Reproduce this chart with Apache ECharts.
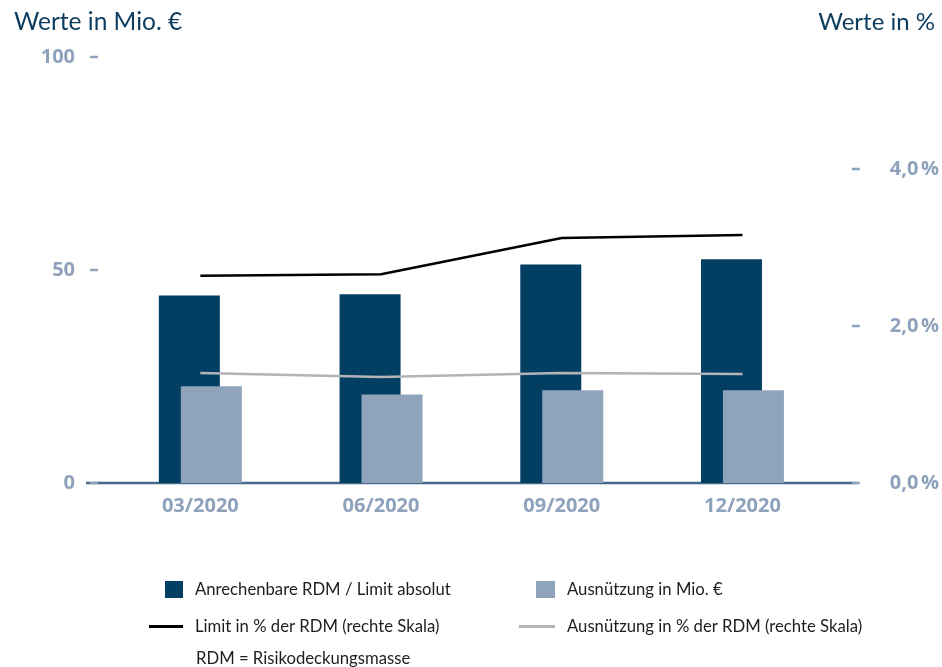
<!DOCTYPE html>
<html>
<head>
<meta charset="utf-8">
<script src="https://cdn.jsdelivr.net/npm/echarts@6/dist/echarts.min.js"></script>
<style>html,body{margin:0;padding:0;background:#fff;}#c{width:942px;height:667px;}</style>
</head>
<body>
<div id="c"></div>
<script>
const categories = ['03/2020', '06/2020', '09/2020', '12/2020'];
const rdmLimit = [44.0, 44.3, 51.3, 52.5];          // Anrechenbare RDM / Limit absolut (Mio. €)
const usageAbs = [22.7, 20.8, 21.8, 21.8];          // Ausnützung in Mio. €
const limitPct = [2.64, 2.66, 3.12, 3.16];          // Limit in % der RDM
const usagePct = [1.40, 1.35, 1.40, 1.39];          // Ausnützung in % der RDM
const leftTicks = [0, 50, 100];
const rightTicks = ['0,0\u202f%', '2,0\u202f%', '4,0\u202f%'];

const names = ['Anrechenbare RDM / Limit absolut', 'Ausnützung in Mio. €',
  'Limit in % der RDM (rechte Skala)', 'Ausnützung in % der RDM (rechte Skala)'];

const DARK = '#023f62', LIGHT = '#8fa3bb', LBL = '#8fa2bb', TITLE = '#0c3c5e', AX = '#46698c';

const chart = echarts.init(document.getElementById('c'), null, {renderer: 'canvas'});
const legTxt = {fontFamily: 'Lato', fontSize: 16.7, color: '#1e1e1e', padding: [0, 0, 0, 7]};
const dashStyle = {width: 8, height: 2.5, backgroundColor: LBL, fontSize: 2, lineHeight: 2.5};
const option = {
  backgroundColor: '#fff',
  animation: false,
  title: [
    {text: 'Werte in Mio. €', left: 9, top: 5, textStyle: {fontFamily: 'Lato', fontSize: 24.5, fontWeight: 'normal', color: TITLE}},
    {text: 'Werte in %', right: 2, top: 5, textStyle: {fontFamily: 'Lato', fontSize: 24, fontWeight: 'normal', color: TITLE}}
  ],
  grid: {left: 110, right: 109, top: 57, bottom: 184, containLabel: false},
  xAxis: {
    type: 'category', data: categories,
    axisLine: {show: false}, axisTick: {show: false},
    axisLabel: {margin: 13, fontFamily: 'Open Sans', fontWeight: 'bold', fontSize: 20, color: LBL}
  },
  yAxis: [
    {
      type: 'value', min: 0, max: 100, interval: 50,
      splitLine: {show: false}, axisLine: {show: false}, axisTick: {show: false},
      axisLabel: {
        margin: 12,
        formatter: v => leftTicks.indexOf(v) >= 0 ? '{n|' + v + '}{g| }{d| }' : '',
        rich: {
          n: {fontFamily: 'Open Sans', fontWeight: 'bold', fontSize: 20, color: LBL},
          g: {width: 15, fontSize: 2},
          d: dashStyle
        }
      }
    },
    {
      type: 'value', min: 0, max: 5.427, interval: 2,
      splitLine: {show: false}, axisLine: {show: false}, axisTick: {show: false},
      axisLabel: {
        margin: 19,
        formatter: v => {
          const i = Math.round(v / 2);
          if (Math.abs(v - i * 2) > 1e-6 || i >= rightTicks.length) return '';
          return '{d| }{g| }{n|' + rightTicks[i] + '}';
        },
        rich: {
          n: {fontFamily: 'Open Sans', fontWeight: 'bold', fontSize: 20, color: LBL},
          g: {width: 30, fontSize: 2},
          d: dashStyle
        }
      }
    }
  ],
  legend: [
    {data: [names[0]], left: 160, top: 576, itemWidth: 18, itemHeight: 17, icon: 'rect', textStyle: legTxt, selectedMode: false},
    {data: [names[1]], left: 531, top: 576, itemWidth: 19, itemHeight: 17, icon: 'rect', textStyle: legTxt, selectedMode: false},
    {data: [names[2]], left: 144, top: 613, itemWidth: 34, itemHeight: 3, icon: 'rect', textStyle: legTxt, selectedMode: false, itemStyle: {color: '#000'}},
    {data: [names[3]], left: 514, top: 613, itemWidth: 36, itemHeight: 3, icon: 'rect', textStyle: legTxt, selectedMode: false, itemStyle: {color: '#b3b3b8'}}
  ],
  graphic: [
    {type: 'line', shape: {x1: 86, y1: 483, x2: 857, y2: 483}, style: {stroke: AX, lineWidth: 2.5}, z: 0},
    {type: 'text', left: 196, top: 650, style: {text: 'RDM = Risikodeckungsmasse', fontFamily: 'Lato', fontSize: 16.7, fill: '#1e1e1e'}}
  ],
  series: [
    {name: names[0], type: 'bar', data: rdmLimit, barWidth: 61, barGap: '-64%', itemStyle: {color: DARK}, z: 2},
    {name: names[1], type: 'bar', data: usageAbs, barWidth: 61, itemStyle: {color: LIGHT}, z: 3},
    {name: names[2], type: 'line', yAxisIndex: 1, data: limitPct, symbol: 'none', color: '#000', lineStyle: {color: '#000', width: 2.5}, z: 4},
    {name: names[3], type: 'line', yAxisIndex: 1, data: usagePct, symbol: 'none', color: '#b3b3b8', lineStyle: {color: '#b3b3b8', width: 2.5}, z: 4}
  ]
};
chart.setOption(option);
</script>
</body>
</html>
